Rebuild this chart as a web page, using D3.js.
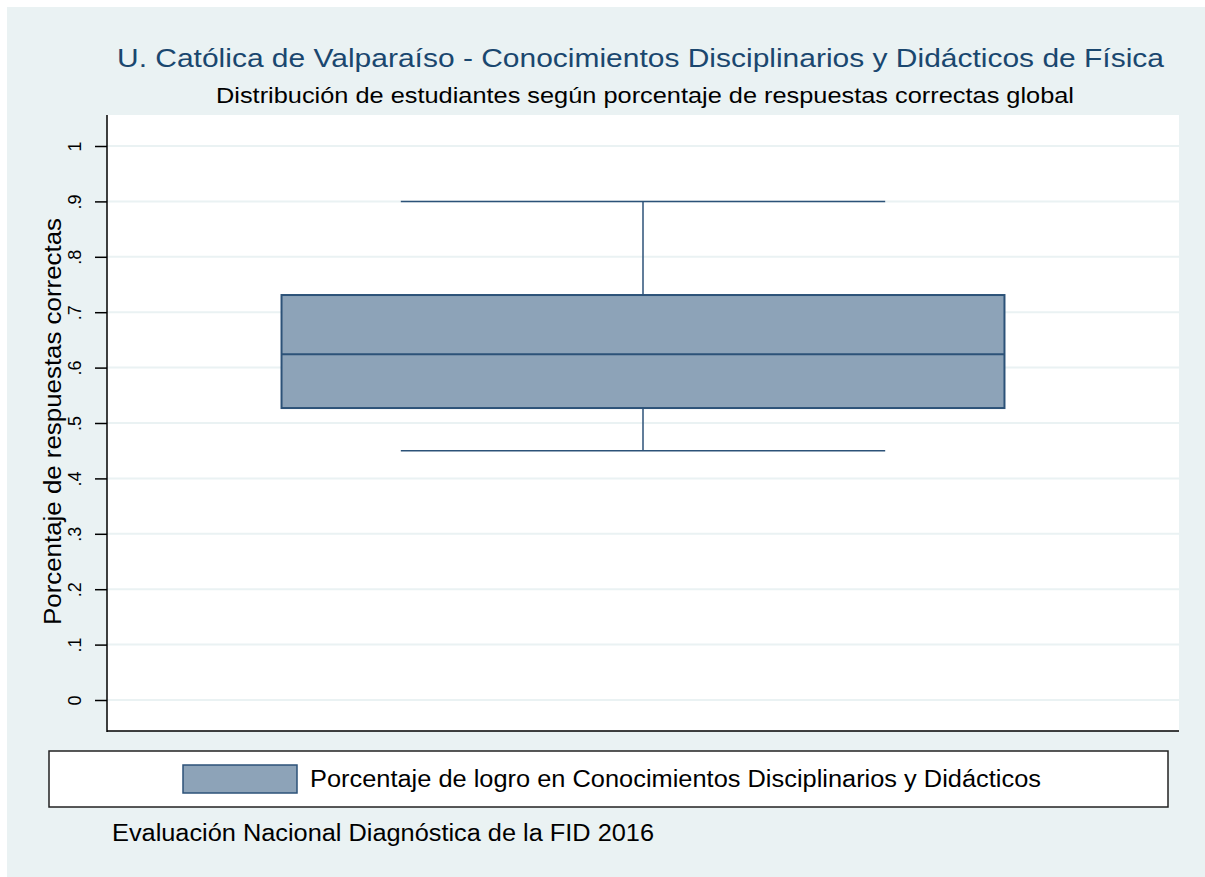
<!DOCTYPE html>
<html lang="es">
<head>
<meta charset="UTF-8">
<title>Boxplot FID 2016</title>
<script src="https://d3js.org/d3.v7.min.js"></script>
<style>
    body { margin: 0; background: #fff; font-family: "Liberation Sans", Arial, sans-serif; overflow: hidden; }
    svg text { font-family: "Liberation Sans", Arial, sans-serif; }
</style>
</head>
<body>
<div class="chart"></div>
<script>
    // datos
    const grupos = ['Porcentaje de logro en Conocimientos Disciplinarios y Didácticos'];
    const minimo = [0.45];
    const q1 = [0.527];
    const mediana = [0.624];
    const q3 = [0.731];
    const maximo = [0.90];
    const ticksY = [0, .1, .2, .3, .4, .5, .6, .7, .8, .9, 1];
    const etiquetasY = ['0', '.1', '.2', '.3', '.4', '.5', '.6', '.7', '.8', '.9', '1'];

    const titulo = 'U. Católica de Valparaíso - Conocimientos Disciplinarios y Didácticos de Física';
    const subtitulo = 'Distribución de estudiantes según porcentaje de respuestas correctas global';
    const tituloY = 'Porcentaje de respuestas correctas';
    const nota = 'Evaluación Nacional Diagnóstica de la FID 2016';

    const W = 1205, H = 877;
    const plot = {x0: 107, x1: 1179, y0: 115, y1: 731};
    const navy = '#1a476f', relleno = '#8da3b8', borde = '#2c5278', fondo = '#eaf2f3';

    const svg = d3.select('.chart').append('svg')
        .attr('width', W).attr('height', H).style('display', 'block');

    svg.append('rect').attr('x', 7).attr('y', 7)
        .attr('width', W - 7).attr('height', H - 7).attr('fill', fondo);

    svg.append('rect').attr('x', plot.x0).attr('y', plot.y0)
        .attr('width', plot.x1 - plot.x0).attr('height', plot.y1 - plot.y0)
        .attr('fill', '#fff');

    const y = d3.scaleLinear().domain([0, 1]).range([700, 146]);
    const x = d3.scaleBand().domain(grupos)
        .range([plot.x0, plot.x1]).paddingInner(0).paddingOuter(0.2414);

    // rejilla
    svg.selectAll('.grid')
        .data(ticksY)
        .enter().append('line')
        .attr('class', 'grid')
        .attr('x1', plot.x0).attr('x2', plot.x1)
        .attr('y1', d => y(d)).attr('y2', d => y(d))
        .attr('stroke', fondo).attr('stroke-width', 2);

    // eje y
    const ejeY = svg.append('g')
        .attr('transform', 'translate(' + plot.x0 + ',0)')
        .call(d3.axisLeft(y).tickValues(ticksY).tickSize(12)
            .tickFormat((d, i) => etiquetasY[i]));
    ejeY.select('.domain').remove();
    ejeY.selectAll('.tick line').attr('stroke', '#000').attr('stroke-width', 1.5);
    ejeY.selectAll('.tick text')
        .attr('x', 0).attr('y', 0).attr('dy', 0)
        .attr('transform', 'translate(-26,0) rotate(-90)')
        .attr('text-anchor', 'middle')
        .attr('font-size', 18).attr('fill', '#000');

    svg.append('line').attr('x1', plot.x0).attr('x2', plot.x0)
        .attr('y1', plot.y0).attr('y2', plot.y1 + 1)
        .attr('stroke', '#000').attr('stroke-width', 1.5);
    svg.append('line').attr('x1', plot.x0).attr('x2', plot.x1)
        .attr('y1', plot.y1).attr('y2', plot.y1)
        .attr('stroke', '#000').attr('stroke-width', 1.5);

    svg.append('text')
        .attr('transform', 'translate(61,625) rotate(-90)')
        .attr('font-size', 23).attr('fill', '#000')
        .attr('textLength', 407).attr('lengthAdjust', 'spacingAndGlyphs')
        .text(tituloY);

    // caja
    const g = svg.selectAll('.caja')
        .data(grupos)
        .enter().append('g').attr('class', 'caja');

    const cx = d => x(d) + x.bandwidth() / 2;
    const cap = x.bandwidth() * 0.335;

    g.append('line')
        .attr('x1', cx).attr('x2', cx)
        .attr('y1', (d, i) => y(maximo[i])).attr('y2', (d, i) => y(q3[i]))
        .attr('stroke', borde).attr('stroke-width', 1.5);
    g.append('line')
        .attr('x1', cx).attr('x2', cx)
        .attr('y1', (d, i) => y(q1[i])).attr('y2', (d, i) => y(minimo[i]))
        .attr('stroke', borde).attr('stroke-width', 1.5);
    g.append('line')
        .attr('x1', d => cx(d) - cap).attr('x2', d => cx(d) + cap)
        .attr('y1', (d, i) => y(maximo[i])).attr('y2', (d, i) => y(maximo[i]))
        .attr('stroke', borde).attr('stroke-width', 1.5);
    g.append('line')
        .attr('x1', d => cx(d) - cap).attr('x2', d => cx(d) + cap)
        .attr('y1', (d, i) => y(minimo[i])).attr('y2', (d, i) => y(minimo[i]))
        .attr('stroke', borde).attr('stroke-width', 1.5);
    g.append('rect')
        .attr('x', d => x(d)).attr('width', x.bandwidth())
        .attr('y', (d, i) => y(q3[i]))
        .attr('height', (d, i) => y(q1[i]) - y(q3[i]))
        .attr('fill', relleno).attr('stroke', borde).attr('stroke-width', 2);
    g.append('line')
        .attr('x1', d => x(d)).attr('x2', d => x(d) + x.bandwidth())
        .attr('y1', (d, i) => y(mediana[i])).attr('y2', (d, i) => y(mediana[i]))
        .attr('stroke', borde).attr('stroke-width', 2);

    // títulos
    svg.append('text')
        .attr('x', 117).attr('y', 67)
        .attr('font-size', 26).attr('fill', navy)
        .attr('textLength', 1047).attr('lengthAdjust', 'spacingAndGlyphs')
        .text(titulo);
    svg.append('text')
        .attr('x', 216).attr('y', 103)
        .attr('font-size', 22.5).attr('fill', '#000')
        .attr('textLength', 858).attr('lengthAdjust', 'spacingAndGlyphs')
        .text(subtitulo);

    // leyenda
    svg.append('rect').attr('x', 49).attr('y', 751)
        .attr('width', 1119).attr('height', 56)
        .attr('fill', '#fff').attr('stroke', '#222').attr('stroke-width', 1.5);
    const leyenda = svg.selectAll('.leyenda')
        .data(grupos)
        .enter().append('g').attr('class', 'leyenda');
    leyenda.append('rect')
        .attr('x', 183).attr('y', 765).attr('width', 114).attr('height', 28)
        .attr('fill', relleno).attr('stroke', borde).attr('stroke-width', 1.5);
    leyenda.append('text')
        .attr('x', 310).attr('y', 787)
        .attr('font-size', 23).attr('fill', '#000')
        .attr('textLength', 731).attr('lengthAdjust', 'spacingAndGlyphs')
        .text(d => d);

    svg.append('text')
        .attr('x', 112).attr('y', 841)
        .attr('font-size', 23).attr('fill', '#000')
        .attr('textLength', 542).attr('lengthAdjust', 'spacingAndGlyphs')
        .text(nota);
</script>
</body>
</html>
